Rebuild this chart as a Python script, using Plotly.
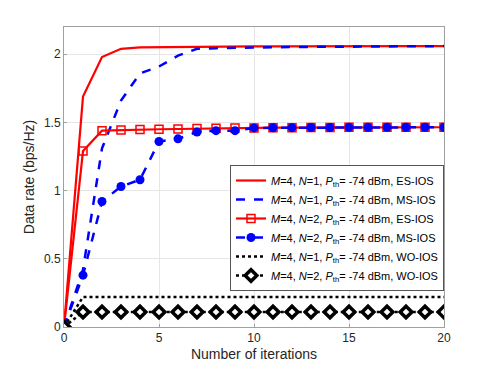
import plotly.graph_objects as go

iterations = list(range(21))

es_n1 = [0, 1.69, 1.98, 2.04, 2.05, 2.052, 2.054, 2.055, 2.056, 2.057, 2.058,
         2.058, 2.059, 2.059, 2.06, 2.06, 2.06, 2.06, 2.06, 2.06, 2.06]
ms_n1 = [0, 0.42, 1.31, 1.66, 1.86, 1.91, 1.99, 2.04, 2.045, 2.048, 2.05,
         2.052, 2.053, 2.054, 2.055, 2.056, 2.057, 2.058, 2.059, 2.06, 2.06]
es_n2 = [0, 1.29, 1.44, 1.445, 1.448, 1.45, 1.452, 1.455, 1.458, 1.46, 1.46,
         1.462, 1.462, 1.463, 1.463, 1.464, 1.464, 1.465, 1.465, 1.465, 1.465]
ms_n2 = [0, 0.38, 0.92, 1.03, 1.08, 1.36, 1.38, 1.43, 1.44, 1.44, 1.46,
         1.461, 1.462, 1.463, 1.463, 1.464, 1.464, 1.465, 1.465, 1.465, 1.465]
wo_n1 = [0] + [0.22] * 20
wo_n2 = [0] + [0.11] * 20

labels = [
    "<i>M</i>=4, <i>N</i>=1, <i>P</i><sub>th</sub>= -74 dBm, ES-IOS",
    "<i>M</i>=4, <i>N</i>=1, <i>P</i><sub>th</sub>= -74 dBm, MS-IOS",
    "<i>M</i>=4, <i>N</i>=2, <i>P</i><sub>th</sub>= -74 dBm, ES-IOS",
    "<i>M</i>=4, <i>N</i>=2, <i>P</i><sub>th</sub>= -74 dBm, MS-IOS",
    "<i>M</i>=4, <i>N</i>=1, <i>P</i><sub>th</sub>= -74 dBm, WO-IOS",
    "<i>M</i>=4, <i>N</i>=2, <i>P</i><sub>th</sub>= -74 dBm, WO-IOS",
]

fig = go.Figure()
fig.add_trace(go.Scatter(x=iterations, y=es_n1, name=labels[0], mode="lines",
                         line=dict(color="#ff0000", width=2.2)))
fig.add_trace(go.Scatter(x=iterations, y=ms_n1, name=labels[1], mode="lines",
                         line=dict(color="#0000ff", width=2.5, dash="dash")))
fig.add_trace(go.Scatter(x=iterations, y=es_n2, name=labels[2], mode="lines+markers",
                         line=dict(color="#ff0000", width=2.2),
                         marker=dict(symbol="square-open", size=8, color="#ff0000",
                                     line=dict(width=1.5, color="#ff0000"))))
fig.add_trace(go.Scatter(x=iterations, y=ms_n2, name=labels[3], mode="lines+markers",
                         line=dict(color="#0000ff", width=2.5, dash="dash"),
                         marker=dict(symbol="circle", size=9, color="#0000ff")))
fig.add_trace(go.Scatter(x=iterations, y=wo_n1, name=labels[4], mode="lines",
                         line=dict(color="#000000", width=2.5, dash="dot")))
fig.add_trace(go.Scatter(x=iterations, y=wo_n2, name=labels[5], mode="lines+markers",
                         line=dict(color="#000000", width=2.5, dash="dot"),
                         marker=dict(symbol="diamond", size=9, color="white",
                                     line=dict(width=3.5, color="#000000"))))

# page body adds an 8px offset, so the figure is 8px smaller with trimmed left/top margins
fig.update_layout(
    width=483, height=360,
    margin=dict(l=56, r=47, t=19, b=41),
    plot_bgcolor="white", paper_bgcolor="white",
    font=dict(family="Liberation Sans, Arial, sans-serif", size=12, color="#262626"),
    showlegend=True,
    legend=dict(x=1, xanchor="right", y=0.54, yanchor="top",
                bgcolor="white", bordercolor="#555555", borderwidth=1,
                font=dict(size=11, color="#000000"), tracegroupgap=0,
                itemwidth=30),
)
fig.update_xaxes(range=[0, 20], tickvals=[0, 5, 10, 15, 20], automargin=False,
                 title=dict(text="Number of iterations", standoff=4),
                 showline=True, linecolor="#a0a0a0", mirror=True,
                 showgrid=True, gridcolor="#e6e6e6", zeroline=False,
                 ticks="inside", ticklen=3, tickcolor="#a0a0a0")
fig.update_yaxes(range=[0, 2.2], tickvals=[0, 0.5, 1, 1.5, 2], automargin=False,
                 title=dict(text="Data rate (bps/Hz)", standoff=6),
                 showline=True, linecolor="#a0a0a0", mirror=True,
                 showgrid=True, gridcolor="#e6e6e6", zeroline=False,
                 ticks="inside", ticklen=3, tickcolor="#a0a0a0")

fig.write_html("out.html")
